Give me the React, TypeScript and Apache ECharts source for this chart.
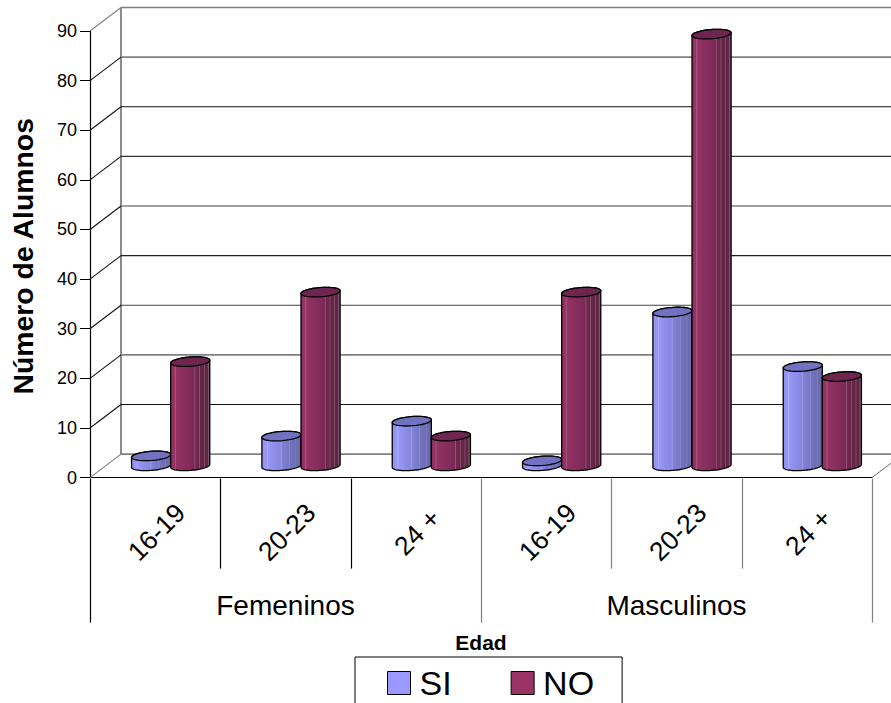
import React, { useEffect, useRef } from "react";
import * as echarts from "echarts";

const ageCategories = ["16-19", "20-23", "24 +", "16-19", "20-23", "24 +"];
const groupCategories = ["Femeninos", "Masculinos"];
const siValues = [2, 6, 9, 1, 31, 20];
const noValues = [21, 35, 6, 35, 87, 18];
const gridValues = [0, 10, 20, 30, 40, 50, 60, 70, 80, 90];
const backLineColors = ["#808080", "#111", "#808080", "#444", "#222", "#808080", "#333", "#111", "#808080", "#808080"];
const sideLineColors = ["#808080", "#111", "#111", "#111", "#111", "#111", "#111", "#111", "#111", "#808080"];
const dividerColors = ["#000", "#000", "#000", "#808080", "#808080", "#808080", "#808080"];

const FONT = "'Liberation Sans', Arial, sans-serif";
const DEPTH_X = 31;
const DEPTH_Y = 23.5;
const BLUE_STOPS: [number, string][] = [
  [0, "#9090ee"], [0.12, "#9898fa"], [0.14, "#b0b0ff"], [0.17, "#9696f6"], [0.47, "#8686dc"], [0.49, "#9c9cea"],
  [0.52, "#8282d6"], [0.68, "#7878c6"], [0.7, "#8c8cd4"], [0.72, "#7474be"], [0.85, "#6e6eb4"], [0.87, "#8282c4"],
  [0.89, "#6a6aae"], [1, "#6c6caa"],
];
const RED_STOPS: [number, string][] = [
  [0, "#8f3060"], [0.1, "#973464"], [0.12, "#ac5682"], [0.15, "#923262"], [0.5, "#822b5a"], [0.6, "#782852"],
  [0.62, "#985a7e"], [0.64, "#72284e"], [0.72, "#6c264a"], [0.74, "#8e5676"], [0.76, "#662646"], [0.84, "#622644"],
  [0.86, "#845470"], [0.88, "#602644"], [0.94, "#5e2644"], [0.96, "#825a72"], [1, "#6e3e5a"],
];

function ellipsePoint(cx: number, cy: number, r: number, t: number): number[] {
  const c = Math.cos(t);
  const s = Math.sin(t);
  return [cx + r * c + 0.06 * r * s, cy - 0.085 * r * c + 0.23 * r * s];
}

function arcPoints(cx: number, cy: number, r: number, from: number, to: number): number[][] {
  const out: number[][] = [];
  const n = 36;
  for (let i = 0; i <= n; i++) out.push(ellipsePoint(cx, cy, r, from + ((to - from) * i) / n));
  return out;
}

function cylinderRenderer(side: number, stops: [number, string][], topColor: string) {
  return (_params: any, api: any) => {
    const top = api.coord([api.value(0), api.value(1)]);
    const base = api.coord([api.value(0), 0]);
    const band = api.size([1, 0])[0];
    const r = band * 0.15;
    const cx = top[0] + side * r + DEPTH_X / 2;
    const topY = top[1] - DEPTH_Y / 2;
    const baseY = base[1] - DEPTH_Y / 2;
    const body = [
      ...arcPoints(cx, baseY, r, 0, Math.PI),
      ...arcPoints(cx, topY, r, Math.PI, Math.PI * 2),
    ];
    return {
      type: "group",
      children: [
        {
          type: "polygon",
          shape: { points: body },
          style: {
            fill: new echarts.graphic.LinearGradient(0, 0, 1, 0, stops.map(([offset, color]) => ({ offset, color }))),
            stroke: "#000",
            lineWidth: 1.3,
          },
        },
        {
          type: "polygon",
          shape: { points: arcPoints(cx, topY, r, 0, Math.PI * 2) },
          style: { fill: topColor, stroke: "#000", lineWidth: 1.3 },
        },
      ],
    };
  };
}

function renderFrameLine(params: any, api: any) {
  const i = params.dataIndex;
  const grid = params.coordSys;
  const p = api.coord([0, api.value(1)]);
  const left = grid.x;
  const right = grid.x + grid.width;
  const y = p[1];
  const children: any[] = [
    {
      type: "line",
      shape: { x1: left + DEPTH_X, y1: y - DEPTH_Y, x2: right + DEPTH_X, y2: y - DEPTH_Y },
      style: { stroke: backLineColors[i], lineWidth: backLineColors[i] === "#808080" ? 1.6 : 1.2 },
    },
    {
      type: "line",
      shape: { x1: left, y1: y, x2: left + DEPTH_X, y2: y - DEPTH_Y },
      style: { stroke: sideLineColors[i], lineWidth: 1.1 },
    },
  ];
  if (i === 0) {
    const topY = grid.y;
    children.push(
      {
        type: "line",
        shape: { x1: left + DEPTH_X, y1: y - DEPTH_Y, x2: left + DEPTH_X, y2: topY - DEPTH_Y },
        style: { stroke: "#808080", lineWidth: 1.8 },
      },
      {
        type: "line",
        shape: { x1: right, y1: y, x2: right + DEPTH_X, y2: y - DEPTH_Y },
        style: { stroke: "#666", lineWidth: 1 },
      }
    );
  }
  return { type: "group", children };
}

function renderDivider(params: any) {
  const grid = params.coordSys;
  const idx = params.dataIndex;
  const x = Math.round(grid.x + (grid.width * idx) / ageCategories.length) + 0.5;
  const y = grid.y + grid.height;
  const long = idx % 3 === 0;
  return {
    type: "line",
    shape: { x1: x, y1: y + 1, x2: x, y2: y + (long ? 145 : 91) },
    style: { stroke: dividerColors[idx], lineWidth: 1.2 },
  };
}

export default function App() {
  const ref = useRef<HTMLDivElement>(null);
  useEffect(() => {
    const chart = echarts.init(ref.current!, undefined, { renderer: "svg" });
    chart.setOption({
      animation: false,
      backgroundColor: "#fff",
      textStyle: { fontFamily: FONT },
      grid: { left: 90, right: 19, top: 31, bottom: 225.4, containLabel: false, outerBoundsMode: "none" },
      legend: {
        left: 355,
        top: 657,
        orient: "horizontal",
        itemWidth: 23,
        itemHeight: 23,
        itemGap: 59,
        padding: [9, 28, 40, 32],
        borderColor: "#000",
        borderWidth: 1,
        backgroundColor: "#fff",
        selectedMode: false,
        textStyle: { fontSize: 34, color: "#000", fontFamily: FONT, padding: [0, 0, 0, 4] },
        data: [
          { name: "SI", icon: "rect", itemStyle: { color: "#9999FF", borderColor: "#000", borderWidth: 1 } },
          { name: "NO", icon: "rect", itemStyle: { color: "#993366", borderColor: "#000", borderWidth: 1 } },
        ],
      },
      xAxis: [
        {
          type: "category",
          position: "bottom",
          data: ageCategories,
          axisLine: { show: true, lineStyle: { color: "#000", width: 1.2 } },
          axisTick: { show: false },
          axisLabel: {
            interval: 0,
            rotate: 45,
            align: "center",
            verticalAlign: "middle",
            margin: 56,
            padding: [0, 0, 0, 4],
            fontSize: 26.5,
            color: "#000",
            fontFamily: FONT,
          },
        },
        {
          type: "category",
          position: "bottom",
          data: groupCategories,
          name: "Edad",
          nameLocation: "middle",
          nameGap: 165,
          nameTextStyle: { fontSize: 21, fontWeight: "bold", color: "#000", fontFamily: FONT, verticalAlign: "middle" },
          axisLine: { show: false },
          axisTick: { show: false },
          axisLabel: {
            interval: 0,
            margin: 114,
            fontSize: 28,
            color: "#000",
            fontFamily: FONT,
          },
        },
      ],
      yAxis: {
        type: "value",
        min: 0,
        max: 90,
        interval: 10,
        name: "Número de Alumnos",
        nameLocation: "middle",
        nameGap: 53,
        nameTextStyle: { fontSize: 28.4, fontWeight: "bold", color: "#000", fontFamily: FONT, padding: [0, 4, 0, 0] },
        splitLine: { show: false },
        axisLine: { show: true, lineStyle: { color: "#000", width: 1.2 } },
        axisTick: { show: true, length: 10, lineStyle: { color: "#000" } },
        axisLabel: { fontSize: 18, margin: 13, color: "#000", fontFamily: FONT },
      },
      series: [
        {
          type: "custom",
          name: "frame",
          xAxisIndex: 0,
          yAxisIndex: 0,
          silent: true,
          renderItem: renderFrameLine,
          encode: { x: 0, y: 1 },
          data: gridValues.map((v) => [0, v]),
        },
        {
          type: "custom",
          name: "SI",
          xAxisIndex: 0,
          yAxisIndex: 0,
          itemStyle: { color: "#9999FF" },
          renderItem: cylinderRenderer(-1, BLUE_STOPS, "#7272c2"),
          encode: { x: 0, y: 1 },
          data: siValues.map((v, i) => [i, v]),
        },
        {
          type: "custom",
          name: "NO",
          xAxisIndex: 0,
          yAxisIndex: 0,
          itemStyle: { color: "#993366" },
          renderItem: cylinderRenderer(1, RED_STOPS, "#6e2650"),
          encode: { x: 0, y: 1 },
          data: noValues.map((v, i) => [i, v]),
        },
        {
          type: "custom",
          name: "dividers",
          xAxisIndex: 0,
          yAxisIndex: 0,
          silent: true,
          renderItem: renderDivider,
          encode: { x: 0, y: 1 },
          data: dividerColors.map(() => [0, 0]),
        },
      ],
    });
    return () => chart.dispose();
  }, []);
  return (
    <div
      ref={ref}
      style={{ position: "absolute", left: 0, top: 0, width: 891, height: 703, overflow: "hidden" }}
    />
  );
}
